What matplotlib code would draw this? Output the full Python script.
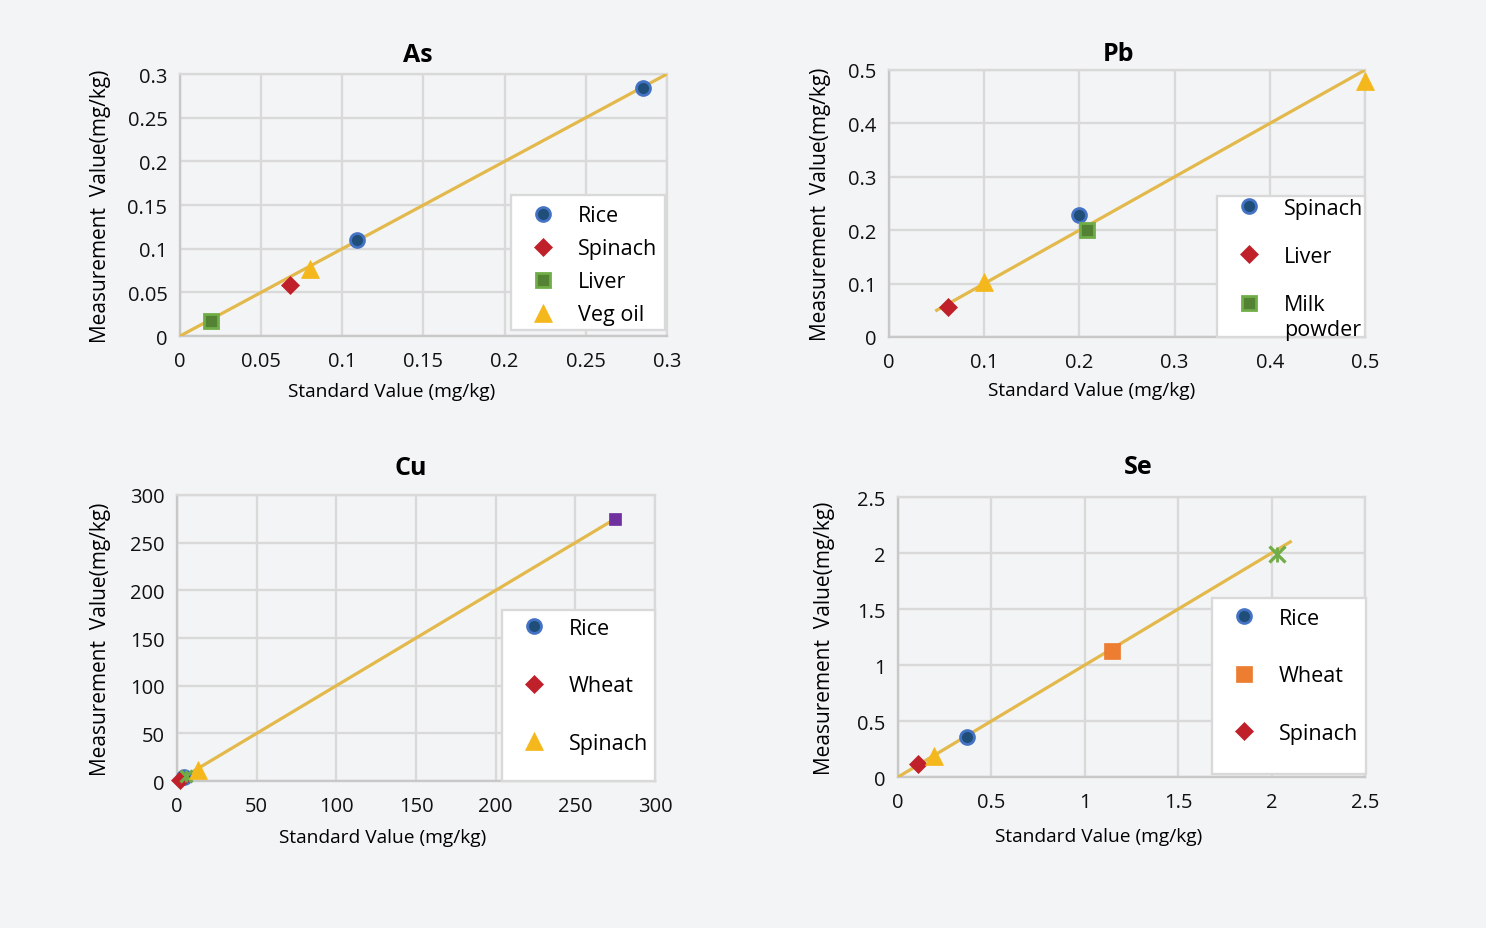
import matplotlib
matplotlib.use('Agg')
import matplotlib.pyplot as plt
from matplotlib.patches import Rectangle
from matplotlib.transforms import IdentityTransform, offset_copy
from matplotlib.ticker import FuncFormatter, MultipleLocator

plt.rcParams['font.family'] = ['Open Sans', 'DejaVu Sans']

# ---- data ----
as_rice_x = [0.109, 0.285]
as_rice_y = [0.110, 0.284]
as_spinach_x = [0.068]
as_spinach_y = [0.059]
as_liver_x = [0.019]
as_liver_y = [0.017]
as_vegoil_x = [0.080]
as_vegoil_y = [0.077]
as_line = [0.0, 0.3]

pb_spinach_x = [0.200]
pb_spinach_y = [0.229]
pb_liver_x = [0.062]
pb_liver_y = [0.057]
pb_milk_x = [0.208]
pb_milk_y = [0.201]
pb_other_x = [0.100, 0.500]
pb_other_y = [0.103, 0.479]
pb_line = [0.05, 0.5]

cu_rice_x = [4.5]
cu_rice_y = [4.0]
cu_wheat_x = [2.0]
cu_wheat_y = [1.5]
cu_spinach_x = [13.0]
cu_spinach_y = [11.5]
cu_cross_x = [5.5]
cu_cross_y = [5.0]
cu_purple_x = [275.0]
cu_purple_y = [275.0]
cu_line = [0.0, 275.0]

se_rice_x = [0.368]
se_rice_y = [0.354]
se_wheat_x = [1.144]
se_wheat_y = [1.128]
se_spinach_x = [0.109]
se_spinach_y = [0.116]
se_tri_x = [0.194]
se_tri_y = [0.185]
se_cross_x = [2.03]
se_cross_y = [1.99]
se_line = [0.0, 2.1]

BG = '#f3f4f5'
GRID = '#d9d9d9'
LINE = '#e3b94c'
BLUE_F, BLUE_E = '#1f4e79', '#4472c4'
RED = '#c0202a'
GREEN_F, GREEN_E = '#548235', '#70ad47'
YELLOW = '#f5b81c'
ORANGE = '#ed7d31'
PURPLE = '#7030a0'

STYLE = {
    'rice': dict(marker='o', ms=10, mfc=BLUE_F, mec=BLUE_E, mew=2),
    'diamond': dict(marker='D', ms=9, mfc=RED, mec=RED, mew=0.5),
    'gsquare': dict(marker='s', ms=10, mfc=GREEN_F, mec=GREEN_E, mew=2),
    'tri': dict(marker='^', ms=13, mfc=YELLOW, mec=YELLOW, mew=0.5),
    'osquare': dict(marker='s', ms=11, mfc=ORANGE, mec=ORANGE, mew=0.5),
    'psquare': dict(marker='s', ms=9, mfc=PURPLE, mec=PURPLE, mew=0.5),
    'cross': dict(marker='x', ms=12, mfc=GREEN_E, mec=GREEN_E, mew=2.3),
    'bar': dict(marker='|', ms=10, mfc=GREEN_E, mec=GREEN_E, mew=2.0),
}

LEG_FS = 15.5
fig = plt.figure(figsize=(14.86, 9.29), dpi=100, facecolor=BG)

# axes rectangles in figure fraction
rects = {
    'As': [0.1211, 0.6372, 0.3277, 0.2820],
    'Pb': [0.5983, 0.6362, 0.3203, 0.2874],
    'Cu': [0.1191, 0.1582, 0.3217, 0.3079],
    'Se': [0.6043, 0.1625, 0.3143, 0.3014],
}


def fmt(v, pos):
    return f'{v:g}'


def setup(ax, name, lim, step, title_pos, xlab, ylab_x):
    ax.set_facecolor('none')
    ax.set_xlim(0, lim)
    ax.set_ylim(0, lim)
    ax.xaxis.set_major_locator(MultipleLocator(step))
    ax.yaxis.set_major_locator(MultipleLocator(step))
    ax.xaxis.set_major_formatter(FuncFormatter(fmt))
    ax.yaxis.set_major_formatter(FuncFormatter(fmt))
    ax.grid(True, color=GRID, lw=1.7, zorder=0)
    ax.set_axisbelow(True)
    for s in ax.spines.values():
        s.set_color(GRID)
        s.set_linewidth(1.7)
    ax.spines['left'].set_color('#c8c8c8')
    ax.spines['bottom'].set_color('#c8c8c8')
    ax.tick_params(length=0, labelsize=14.5, colors='#111111')
    ax.tick_params(axis='x', pad=11)
    ax.tick_params(axis='y', pad=9)
    ax.set_title(name, fontsize=18, fontweight='bold', x=title_pos[0],
                 pad=title_pos[1])
    ax.set_xlabel('Standard Value (mg/kg)', fontsize=13.8)
    ax.set_ylabel('Measurement  Value(mg/kg)', fontsize=15)
    ax.xaxis.set_label_coords(xlab[0], xlab[1])
    ax.yaxis.set_label_coords(ylab_x, 0.5)


def legend_box(ax, box, handles, labels, spacing, lift):
    x0, y0, w, h = box
    ax.add_patch(Rectangle((x0, y0), w, h, transform=ax.transAxes,
                           facecolor='white', edgecolor=GRID, lw=1.7,
                           zorder=5, clip_on=False))
    leg = ax.legend(handles, labels, loc='upper left',
                    bbox_to_anchor=(x0, y0 + h),
                    bbox_transform=offset_copy(ax.transAxes, fig=fig,
                                               y=lift, units='dots'),
                    frameon=False, fontsize=LEG_FS, labelspacing=spacing,
                    borderpad=0.4, borderaxespad=0, handlelength=2.2,
                    handletextpad=0.5, numpoints=1)
    leg.set_zorder(6)
    return leg


def pt(ax, x, y, key, z=4, **kw):
    st = dict(STYLE[key])
    st.update(kw)
    return ax.plot(x, y, ls='none', zorder=z, clip_on=False, **st)[0]


def star(ax, x, y, ms):
    pt(ax, x, y, 'cross', ms=ms)
    pt(ax, x, y, 'bar', ms=ms * 0.9)


# ---- As ----
ax = fig.add_axes(rects['As'])
setup(ax, 'As', 0.3, 0.05, (0.489, 9.6), (0.435, -0.175), -0.141)
ax.plot(as_line, as_line, color=LINE, lw=2.3, zorder=3)
h1 = pt(ax, as_rice_x, as_rice_y, 'rice')
h2 = pt(ax, as_spinach_x, as_spinach_y, 'diamond')
h3 = pt(ax, as_liver_x, as_liver_y, 'gsquare')
h4 = pt(ax, as_vegoil_x, as_vegoil_y, 'tri')
legend_box(ax, (0.680, 0.023, 0.316, 0.515), [h1, h2, h3, h4],
           ['Rice', 'Spinach', 'Liver', 'Veg oil'], 0.56, -1.5)

# ---- Pb ----
ax = fig.add_axes(rects['Pb'])
setup(ax, 'Pb', 0.5, 0.1, (0.481, 7.2), (0.425, -0.165), -0.121)
ax.plot(pb_line, pb_line, color=LINE, lw=2.3, zorder=3)
h1 = pt(ax, pb_spinach_x, pb_spinach_y, 'rice')
h2 = pt(ax, pb_liver_x, pb_liver_y, 'diamond')
h3 = pt(ax, pb_milk_x, pb_milk_y, 'gsquare')
pt(ax, pb_other_x, pb_other_y, 'tri')
pb_leg = legend_box(ax, (0.689, 0.0, 0.311, 0.528), [h1, h2, h3],
                    ['Spinach', 'Liver', 'Milk'], 1.27, 7)

# ---- Cu ----
ax = fig.add_axes(rects['Cu'])
setup(ax, 'Cu', 300, 50, (0.490, 15), (0.43, -0.165), -0.139)
ax.plot(cu_line, cu_line, color=LINE, lw=2.3, zorder=3)
h1 = pt(ax, cu_rice_x, cu_rice_y, 'rice')
h2 = pt(ax, cu_wheat_x, cu_wheat_y, 'diamond')
star(ax, cu_cross_x, cu_cross_y, 9)
h3 = pt(ax, cu_spinach_x, cu_spinach_y, 'tri')
pt(ax, cu_purple_x, cu_purple_y, 'psquare')
legend_box(ax, (0.680, 0.0, 0.320, 0.598), [h1, h2, h3],
           ['Rice', 'Wheat', 'Spinach'], 1.7, 1.0)

# ---- Se ----
ax = fig.add_axes(rects['Se'])
setup(ax, 'Se', 2.5, 0.5, (0.514, 17), (0.43, -0.18), -0.134)
ax.plot(se_line, se_line, color=LINE, lw=2.3, zorder=3)
h1 = pt(ax, se_rice_x, se_rice_y, 'rice')
h2 = pt(ax, se_wheat_x, se_wheat_y, 'osquare')
h3 = pt(ax, se_spinach_x, se_spinach_y, 'diamond')
pt(ax, se_tri_x, se_tri_y, 'tri')
star(ax, se_cross_x, se_cross_y, 12)
legend_box(ax, (0.672, 0.011, 0.330, 0.628), [h1, h2, h3],
           ['Rice', 'Wheat', 'Spinach'], 1.7, -1.0)

# second line of the "Milk powder" label, under the first line
fig.canvas.draw()
bb = pb_leg.get_texts()[2].get_window_extent()
fig.text(bb.x0, (bb.y0 + bb.y1) / 2 - 1.15 * LEG_FS * fig.dpi / 72, 'powder',
         transform=IdentityTransform(), fontsize=LEG_FS, ha='left',
         va='center', zorder=7)

fig.savefig('out.png', dpi=100, facecolor=BG)
